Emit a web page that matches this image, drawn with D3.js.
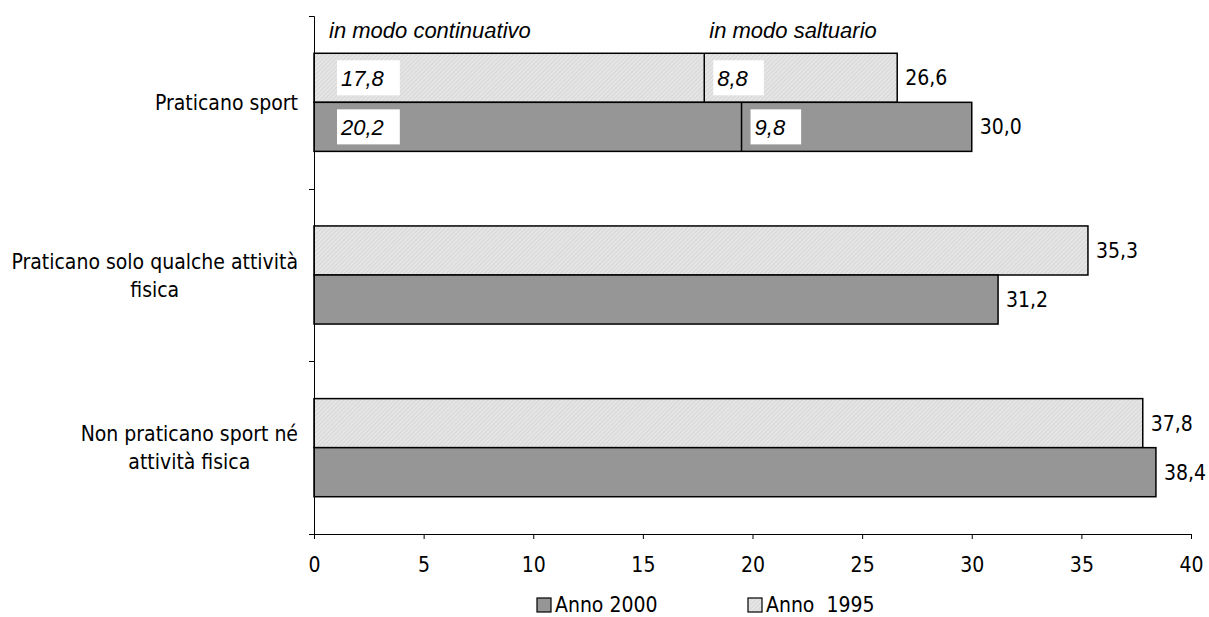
<!DOCTYPE html>
<html>
<head>
<meta charset="utf-8">
<script src="https://cdn.jsdelivr.net/npm/d3@7"></script>
<style>
  body { margin: 0; background: #fff; }
  text { font-family: "DejaVu Sans Condensed", "DejaVu Sans", sans-serif; font-size: 21px; fill: #000; }
  .it { font-family: "Liberation Sans", Arial, sans-serif; font-style: italic; font-size: 22px; }
</style>
</head>
<body>
<div id="chart"></div>
<script>
// data
var categories = ["Praticano sport", "Praticano solo qualche attività\nfisica", "Non praticano sport né\nattività fisica"];
var years = ["1995", "2000"];
var values1995 = [26.6, 35.3, 37.8];
var values2000 = [30.0, 31.2, 38.4];
// breakdown of "Praticano sport" (order: 1995, 2000)
var segNames = ["in modo continuativo", "in modo saltuario"];
var continuativo = [17.8, 20.2];
var saltuario = [8.8, 9.8];
// where the divider is actually drawn in the source (2000 sits at ~19.5, not 20.2)
var splitDrawn = [17.8, 19.5];
var xTicks = [0, 5, 10, 15, 20, 25, 30, 35, 40];
var legendKeys = ["2000", "1995"];
var legendLabels = ["Anno 2000", "Anno  1995"];

var W = 1209, H = 617;
var margin = {top: 16, left: 314, right: 18, bottom: 83};

var svg = d3.select("#chart").append("svg")
    .attr("width", W)
    .attr("height", H);

var defs = svg.append("defs");
var pat = defs.append("pattern")
    .attr("id", "hatch")
    .attr("patternUnits", "userSpaceOnUse")
    .attr("width", 3).attr("height", 3)
    .attr("patternTransform", "rotate(45)");
pat.append("rect").attr("width", 3).attr("height", 3).attr("fill", "#e5e5e5");
pat.append("line").attr("x1", 0).attr("y1", 0).attr("x2", 0).attr("y2", 3)
    .attr("stroke", "#c9c9c9").attr("stroke-width", 1);

var fills = {"1995": "url(#hatch)", "2000": "#969696"};

var x = d3.scaleLinear()
    .domain([0, 40])
    .range([margin.left, W - margin.right]);

var y = d3.scaleBand()
    .domain(categories)
    .range([margin.top, H - margin.bottom]);

var y1 = d3.scaleBand()
    .domain(years)
    .range([0, y.bandwidth()])
    .paddingInner(0)
    .paddingOuter(0.76);

var fmt = function(v) { return d3.format(".1f")(v).replace(".", ","); };

var rows = categories.map(function(c, i) {
  return {cat: c, i: i, vals: {"1995": values1995[i], "2000": values2000[i]}};
});

// bars
var groups = svg.append("g").selectAll("g")
  .data(rows)
  .enter().append("g")
    .attr("transform", function(d) { return "translate(0," + y(d.cat) + ")"; });

groups.selectAll("rect")
  .data(function(d) { return years.map(function(k) { return {key: k, value: d.vals[k]}; }); })
  .enter().append("rect")
    .attr("x", x(0))
    .attr("y", function(d) { return y1(d.key); })
    .attr("width", function(d) { return x(d.value) - x(0); })
    .attr("height", y1.bandwidth())
    .attr("fill", function(d) { return fills[d.key]; })
    .attr("stroke", "#000")
    .attr("stroke-width", 1.5);

// value labels at bar ends
groups.selectAll("text.val")
  .data(function(d) { return years.map(function(k) { return {key: k, value: d.vals[k]}; }); })
  .enter().append("text")
    .attr("class", "val")
    .attr("x", function(d) { return x(d.value) + 8; })
    .attr("y", function(d) { return y1(d.key) + y1.bandwidth() / 2; })
    .attr("dy", "0.36em")
    .text(function(d) { return fmt(d.value); });

// split of "Praticano sport"
var sport = svg.append("g").attr("transform", "translate(0," + y(categories[0]) + ")");
years.forEach(function(k, i) {
  var top = y1(k), h = y1.bandwidth();
  sport.append("line")
      .attr("x1", x(splitDrawn[i])).attr("x2", x(splitDrawn[i]))
      .attr("y1", top).attr("y2", top + h)
      .attr("stroke", "#000").attr("stroke-width", 1.5);
  var segs = [
    {start: 0, value: continuativo[i], off: 23},
    {start: splitDrawn[i], value: saltuario[i], off: 9}
  ];
  segs.forEach(function(s) {
    var bx = x(s.start) + s.off;
    var box = sport.append("rect")
        .attr("x", bx)
        .attr("y", top + 7)
        .attr("height", h - 14)
        .attr("fill", "#fff");
    var t = sport.append("text")
        .attr("class", "it")
        .attr("x", bx + 4)
        .attr("y", top + h / 2)
        .attr("dy", "0.36em")
        .text(fmt(s.value));
    box.attr("width", t.node().getComputedTextLength() + 20);
  });
});

// segment headings
svg.append("g").selectAll("text")
  .data(segNames)
  .enter().append("text")
    .attr("class", "it")
    .attr("x", function(d, i) { return i === 0 ? x(0) + 15 : x(splitDrawn[0]) + 5; })
    .attr("y", 38)
    .text(function(d) { return d; });

// axes
svg.append("g")
    .attr("transform", "translate(0," + (H - margin.bottom) + ")")
    .call(d3.axisBottom(x).tickValues(xTicks).tickSize(5).tickSizeOuter(0).tickPadding(18))
    .call(function(g) {
      g.selectAll("path, line").attr("stroke", "#000");
      g.selectAll("text").attr("font-family", null).attr("font-size", null);
    });

svg.append("g")
    .attr("transform", "translate(" + x(0) + ",0)")
    .call(d3.axisLeft(y).tickValues([]).tickSizeOuter(5))
    .call(function(g) { g.select("path").attr("stroke", "#000"); });

svg.append("g").selectAll("line")
  .data(categories.slice(1))
  .enter().append("line")
    .attr("x1", x(0) - 5).attr("x2", x(0))
    .attr("y1", function(d) { return Math.round(y(d)) + 0.5; })
    .attr("y2", function(d) { return Math.round(y(d)) + 0.5; })
    .attr("stroke", "#000");

// category labels (lines centred on each other, block right-aligned)
var catLabels = svg.append("g").selectAll("text")
  .data(categories)
  .enter().append("text")
    .attr("text-anchor", "middle");

catLabels.each(function(c) {
  var lines = c.split("\n");
  var el = d3.select(this);
  var lh = 28;
  var cy = y(c) + y.bandwidth() / 2;
  lines.forEach(function(l, j) {
    el.append("tspan")
      .attr("y", cy - (lines.length - 1) * lh / 2 + j * lh)
      .attr("dy", "0.36em")
      .text(l);
  });
  var maxW = d3.max(el.selectAll("tspan").nodes(), function(n) { return n.getComputedTextLength(); });
  el.selectAll("tspan").attr("x", x(0) - 16 - maxW / 2);
});

// legend
var lg = svg.append("g").selectAll("g")
  .data(legendKeys)
  .enter().append("g")
    .attr("transform", function(d, i) { return "translate(" + (537 + i * 211) + ",598)"; });

lg.append("rect")
    .attr("width", 14).attr("height", 14)
    .attr("fill", function(d) { return fills[d]; })
    .attr("stroke", "#000").attr("stroke-width", 1.2);

lg.append("text")
    .attr("x", 18)
    .attr("y", 14)
    .style("white-space", "pre")
    .text(function(d, i) { return legendLabels[i]; });
</script>
</body>
</html>
